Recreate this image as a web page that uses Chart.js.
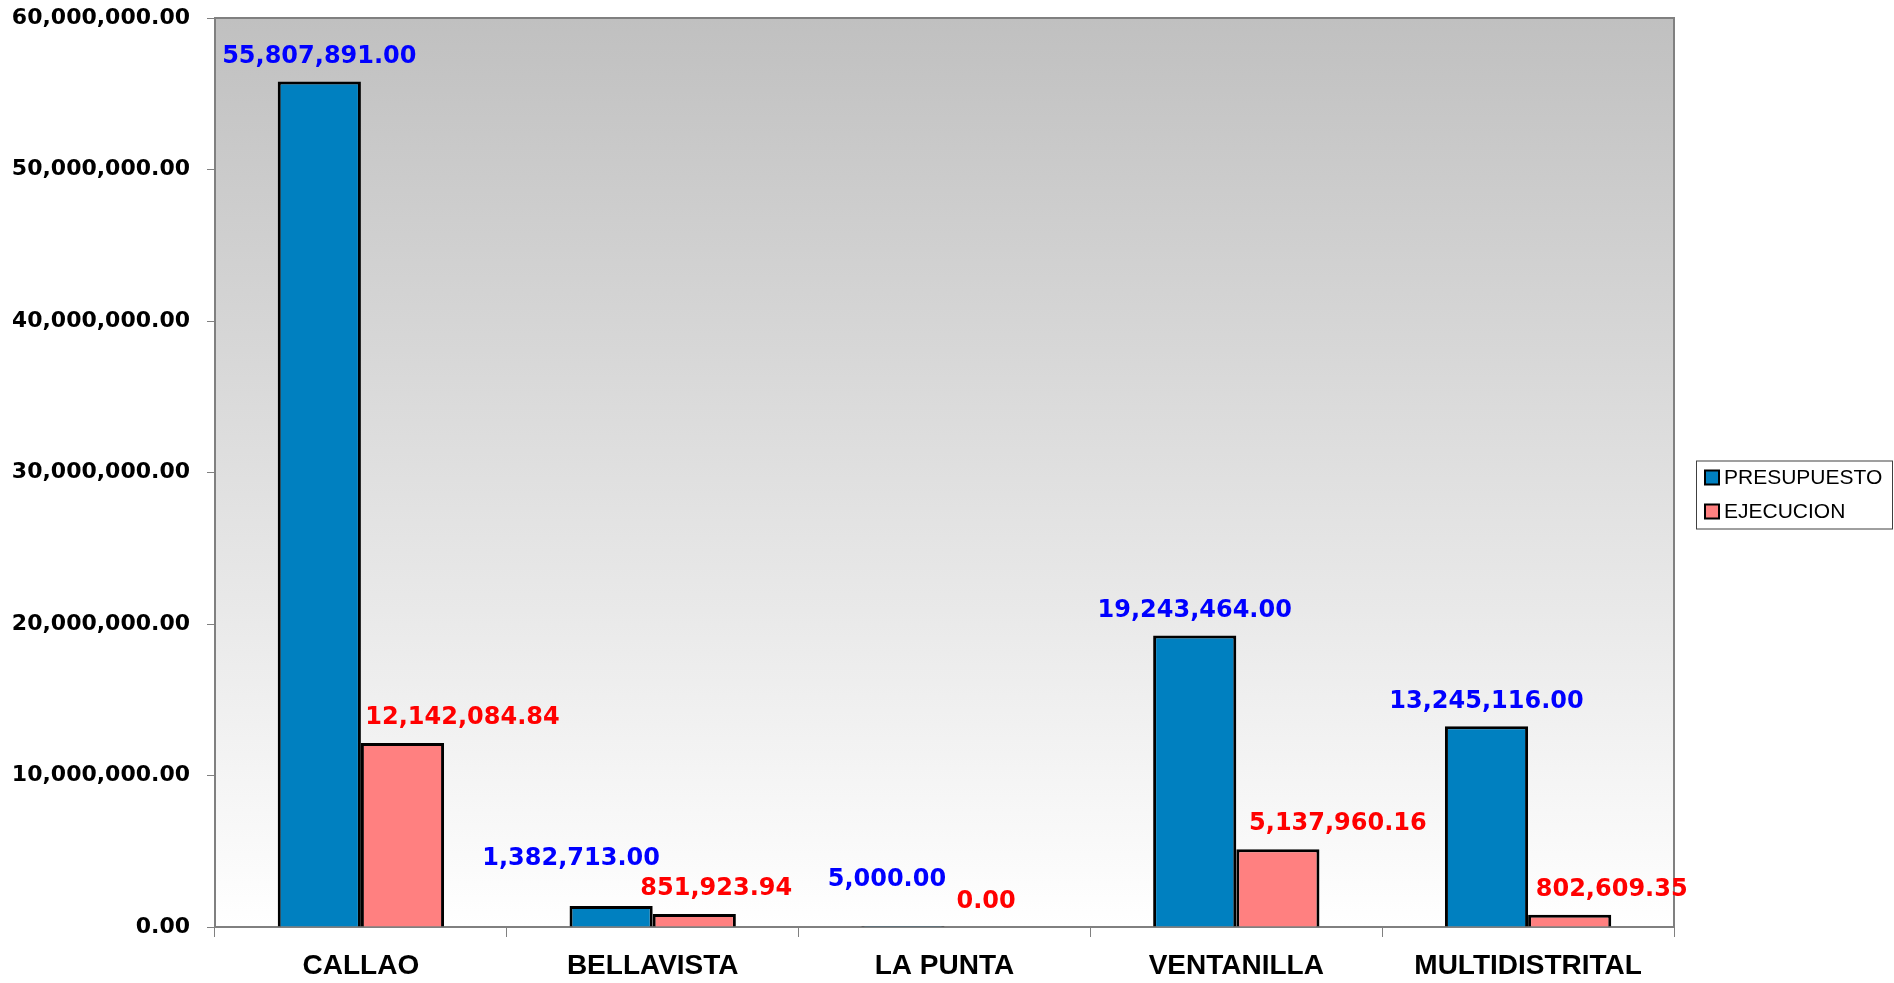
<!DOCTYPE html>
<html lang="es">
<head>
    <meta charset="UTF-8">
    <title>Presupuesto vs Ejecucion</title>
    <script src="https://cdn.jsdelivr.net/npm/chart.js@4.4.1/dist/chart.umd.min.js"></script>
    <style>
        html, body { margin: 0; padding: 0; background: #fff; }
        #wrap { width: 1894px; height: 983px; }
    </style>
</head>
<body>
    <div id="wrap"><canvas id="chart"></canvas></div>
    <script>
        // datos
        const distritos = ['CALLAO', 'BELLAVISTA', 'LA PUNTA', 'VENTANILLA', 'MULTIDISTRITAL'];
        const presupuesto = [55807891.00, 1382713.00, 5000.00, 19243464.00, 13245116.00];
        const ejecucion = [12142084.84, 851923.94, 0.00, 5137960.16, 802609.35];
        const yTicks = [0, 10000000, 20000000, 30000000, 40000000, 50000000, 60000000];

        // desplazamiento manual de las etiquetas (como en el original)
        const shiftPresupuesto = [[0, 0], [-40, 22], [-16, 22], [0, 0], [0, 0]];
        const shiftEjecucion = [[60, 0], [22, 0], [0, 0], [60, 0], [42, 0]];

        const fmt = v => v.toLocaleString('en-US', { minimumFractionDigits: 2, maximumFractionDigits: 2 });

        // fondo degradado, borde del area de trazado y leyenda con marco
        const plotArea = {
            id: 'plotArea',
            beforeDraw(chart) {
                const { ctx, chartArea: a } = chart;
                const g = ctx.createLinearGradient(0, a.top, 0, a.bottom);
                g.addColorStop(0, '#c0c0c0');
                g.addColorStop(1, '#ffffff');
                ctx.save();
                ctx.fillStyle = g;
                ctx.fillRect(a.left, a.top, a.right - a.left, a.bottom - a.top);
                ctx.strokeStyle = '#808080';
                ctx.lineWidth = 2;
                ctx.strokeRect(a.left, a.top, a.right - a.left, a.bottom - a.top);
                ctx.restore();
            },
            afterDraw(chart) {
                const ctx = chart.ctx;
                const a = chart.chartArea;
                const x0 = a.right + 22, w = 196, h = 68;
                const y0 = (a.top + a.bottom) / 2 + 22 - h / 2;
                ctx.save();
                ctx.fillStyle = '#fff';
                ctx.fillRect(x0, y0, w, h);
                ctx.strokeStyle = '#404040';
                ctx.lineWidth = 1;
                ctx.strokeRect(x0 + 0.5, y0 + 0.5, w, h);
                ctx.font = '21px "Liberation Sans", Arial';
                ctx.textBaseline = 'middle';
                chart.data.datasets.forEach((ds, i) => {
                    const cy = y0 + 17 + i * 34;
                    ctx.fillStyle = ds.backgroundColor;
                    ctx.fillRect(x0 + 9, cy - 7, 14, 14);
                    ctx.strokeStyle = '#000';
                    ctx.lineWidth = 2;
                    ctx.strokeRect(x0 + 9, cy - 7, 14, 14);
                    ctx.fillStyle = '#000';
                    ctx.fillText(ds.label, x0 + 28, cy + 1);
                });
                ctx.restore();
            }
        };

        // etiquetas de valores
        const valueLabels = {
            id: 'valueLabels',
            afterDatasetsDraw(chart) {
                const ctx = chart.ctx;
                ctx.save();
                ctx.font = 'bold 24px "DejaVu Sans"';
                ctx.textAlign = 'center';
                ctx.textBaseline = 'middle';
                chart.data.datasets.forEach((ds, di) => {
                    const meta = chart.getDatasetMeta(di);
                    const shifts = di === 0 ? shiftPresupuesto : shiftEjecucion;
                    ctx.fillStyle = di === 0 ? '#0000ff' : '#ff0000';
                    meta.data.forEach((bar, i) => {
                        const s = shifts[i];
                        ctx.fillText(fmt(ds.data[i]), bar.x + s[0], bar.y - 25 - s[1]);
                    });
                });
                ctx.restore();
            }
        };

        const ctx = document.getElementById('chart').getContext('2d');
        new Chart(ctx, {
            type: 'bar',
            data: {
                labels: distritos,
                datasets: [{
                    label: 'PRESUPUESTO',
                    data: presupuesto,
                    backgroundColor: '#0080c0',
                    borderColor: '#000000',
                    borderWidth: 3
                }, {
                    label: 'EJECUCION',
                    data: ejecucion,
                    backgroundColor: '#ff8080',
                    borderColor: '#000000',
                    borderWidth: 3
                }]
            },
            options: {
                responsive: true,
                maintainAspectRatio: false,
                animation: false,
                categoryPercentage: 0.57,
                barPercentage: 1.0,
                layout: { padding: { left: 13, top: 0, right: 220, bottom: 0 } },
                plugins: {
                    legend: { display: false },
                    tooltip: { enabled: false }
                },
                scales: {
                    x: {
                        afterFit(s) { s.height = 56; s.paddingLeft = 0; s.paddingRight = 0; },
                        grid: { display: true, drawOnChartArea: false, offset: true, tickLength: 10, color: '#808080', lineWidth: 1 },
                        border: { display: true, color: '#808080', width: 2 },
                        ticks: {
                            font: { family: '"Liberation Sans", Arial', size: 28, weight: 'bold' },
                            color: '#000',
                            padding: 12
                        }
                    },
                    y: {
                        min: 0,
                        max: 60000000,
                        afterBuildTicks(axis) { axis.ticks = yTicks.map(v => ({ value: v })); },
                        afterFit(s) { s.width = 202; s.paddingTop = 18; s.paddingBottom = 0; },
                        grid: { display: true, drawOnChartArea: false, tickLength: 8, color: '#808080' },
                        border: { display: true, color: '#808080', width: 2 },
                        ticks: {
                            font: { family: '"DejaVu Sans"', size: 22, weight: 'bold' },
                            color: '#000',
                            padding: 17,
                            callback: v => fmt(v)
                        }
                    }
                }
            },
            plugins: [plotArea, valueLabels]
        });
    </script>
</body>
</html>
